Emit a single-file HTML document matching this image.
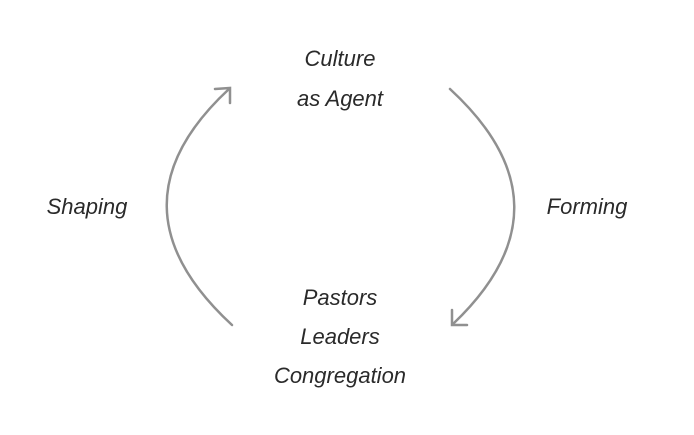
<!DOCTYPE html>
<html><head><style>
html,body{margin:0;padding:0;background:#fff;}
svg text{font-family:"Liberation Sans",sans-serif;font-style:italic;font-size:22px;fill:#2a2a2a;text-anchor:middle;}
</style></head><body>
<svg width="694" height="430" viewBox="0 0 694 430">
<g fill="none" stroke="#909090" stroke-width="2.5" stroke-linecap="round">
<path d="M232 325 Q103 206 229 89"/>
<path d="M215 89 L230 88 L230 103"/>
<path d="M450 89 Q577 206 453 324"/>
<path d="M467 325 L452 325 L452 310"/>
</g>
<text x="340" y="66">Culture</text>
<text x="340" y="106">as Agent</text>
<text x="87" y="214">Shaping</text>
<text x="587" y="214">Forming</text>
<text x="340" y="305">Pastors</text>
<text x="340" y="344">Leaders</text>
<text x="340" y="383">Congregation</text>
</svg>
</body></html>
